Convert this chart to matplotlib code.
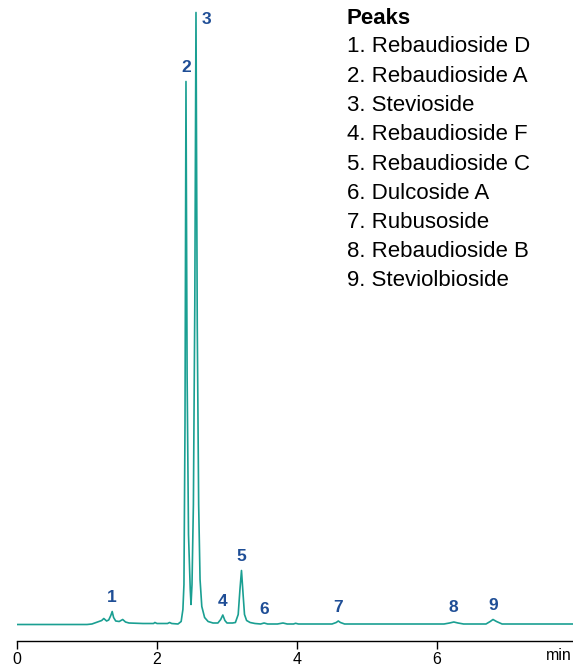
import matplotlib.pyplot as plt

# chromatogram trace (time in min, signal in arbitrary units)
trace_t = [0.0, 1.00, 1.07, 1.15, 1.21, 1.24, 1.28, 1.31, 1.34, 1.36, 1.38, 1.41, 1.46, 1.51, 1.55, 1.60,
           1.80, 1.95, 1.97, 2.00, 2.15, 2.18, 2.21, 2.30, 2.345, 2.37, 2.385, 2.40, 2.414, 2.43, 2.45,
           2.475, 2.486, 2.50, 2.52, 2.54, 2.557, 2.575, 2.595, 2.615, 2.64, 2.68, 2.73, 2.80, 2.87,
           2.91, 2.94, 2.97, 3.00, 3.08, 3.12, 3.16, 3.185, 3.207, 3.23, 3.25, 3.28, 3.33, 3.40, 3.48,
           3.53, 3.58, 3.72, 3.80, 3.86, 3.95, 3.98, 4.02, 4.50, 4.56, 4.59, 4.62, 4.68, 5.20, 6.10,
           6.18, 6.24, 6.30, 6.38, 6.70, 6.76, 6.80, 6.85, 6.93, 7.20, 7.94]
trace_s = [0.0, 0.0, 0.5, 2.5, 4.0, 6.0, 3.5, 4.5, 9.0, 13.0, 7.0, 3.5, 3.0, 5.0, 2.5, 1.5,
           1.0, 1.0, 2.0, 1.0, 1.0, 2.0, 1.0, 0.5, 3.0, 15.0, 40.0, 200.0, 543.0, 250.0, 90.0,
           35.0, 20.0, 40.0, 120.0, 320.0, 612.0, 300.0, 120.0, 45.0, 18.0, 7.0, 3.0, 1.5, 1.5,
           5.0, 9.5, 4.0, 1.5, 1.5, 2.0, 10.0, 35.0, 54.0, 30.0, 10.0, 4.0, 2.0, 1.0, 0.5,
           1.5, 0.5, 0.5, 1.5, 0.5, 0.5, 1.2, 0.5, 0.5, 2.0, 3.5, 2.0, 0.5, 0.5, 0.5,
           1.5, 2.5, 1.5, 0.5, 0.5, 3.0, 5.0, 3.0, 0.5, 0.5, 0.5]

peak_no = ['1', '2', '3', '4', '5', '6', '7', '8', '9']
peak_rt = [1.36, 2.414, 2.557, 2.94, 3.207, 3.53, 4.59, 6.24, 6.80]
peak_top = [13.0, 543.0, 612.0, 9.5, 54.0, 1.5, 3.5, 2.5, 5.0]
peak_names = ['Rebaudioside D', 'Rebaudioside A', 'Stevioside', 'Rebaudioside F',
              'Rebaudioside C', 'Dulcoside A', 'Rubusoside', 'Rebaudioside B', 'Steviolbioside']

x_ticks = [0, 2, 4, 6]

plt.rcParams['font.family'] = ['Liberation Sans', 'DejaVu Sans']

W, H = 573, 666
fig = plt.figure(figsize=(W / 100, H / 100), dpi=100)
ax = fig.add_axes([17 / W, 25 / H, 556 / W, 641 / H])

ax.plot(trace_t, trace_s, color='#1a9f92', lw=1.2, solid_joinstyle='round')
ax.set_xlim(0, 556 / 70)
ax.set_ylim(-16.5, 624.5)

for i, lab in enumerate(peak_no):
    if lab == '3':
        off = (10, -7)
    else:
        off = (0, 14)
    ax.annotate(lab, (peak_rt[i], peak_top[i]), xytext=off, textcoords='offset pixels',
                ha='center', va='center', fontsize=12.5, fontweight='bold', color='#1f4e96')

for s in ['top', 'right', 'left']:
    ax.spines[s].set_visible(False)
ax.spines['bottom'].set_linewidth(1.0)
ax.set_yticks([])
ax.set_xticks(x_ticks)
ax.set_xticklabels([str(v) for v in x_ticks])
ax.tick_params(axis='x', length=6, width=1, labelsize=11.5, pad=2)
# axis unit tucked against the right edge
fig.text(572 / W, 1 - 656 / H, 'min', ha='right', va='center', fontsize=11.5)

# peak legend
lx = 347 / W
fig.text(lx, 1 - 18 / H, 'Peaks', fontsize=16, fontweight='bold', va='center', ha='left')
for i, name in enumerate(peak_names):
    fig.text(lx, 1 - (47 + 29.25 * i) / H, f'{i + 1}. {name}', fontsize=16, va='center', ha='left')

fig.savefig('out.png', dpi=100)
